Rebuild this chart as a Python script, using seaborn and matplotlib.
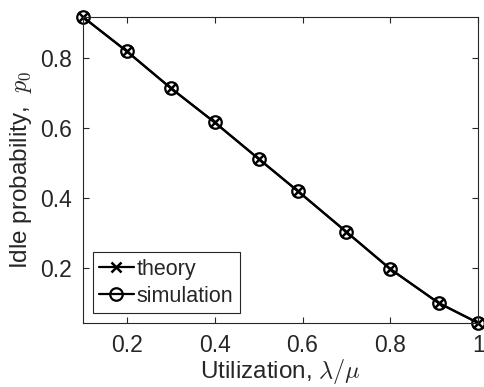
import matplotlib
matplotlib.use("Agg")
import matplotlib.pyplot as plt
import seaborn as sns
import pandas as pd

utilization = [0.1, 0.2, 0.3, 0.4, 0.5, 0.59, 0.7, 0.8, 0.91, 1.0]
theory = [0.917, 0.819, 0.714, 0.616, 0.512, 0.419, 0.303, 0.197, 0.100, 0.043]
simulation = [0.917, 0.819, 0.714, 0.616, 0.512, 0.419, 0.303, 0.197, 0.100, 0.043]
xticks = [0.2, 0.4, 0.6, 0.8, 1.0]
xticklabels = ["0.2", "0.4", "0.6", "0.8", "1"]
yticks = [0.2, 0.4, 0.6, 0.8]
yticklabels = ["0.2", "0.4", "0.6", "0.8"]

sns.set_style("ticks")
plt.rcParams["font.family"] = ["Liberation Sans", "DejaVu Sans"]
plt.rcParams["mathtext.fontset"] = "cm"

fig = plt.figure(figsize=(4.85, 3.87), dpi=100)
ax = fig.add_axes([0.171, 0.165, 0.815, 0.791])

df_t = pd.DataFrame({"x": utilization, "y": theory})
df_s = pd.DataFrame({"x": utilization, "y": simulation})
sns.lineplot(data=df_t, x="x", y="y", ax=ax, color="black", marker="x",
             markersize=7, markeredgewidth=1.8, markeredgecolor="black",
             linewidth=1.6, label="theory", clip_on=False)
sns.lineplot(data=df_s, x="x", y="y", ax=ax, color="black", marker="o",
             markersize=9, markerfacecolor="none", markeredgecolor="black",
             markeredgewidth=1.6, linewidth=1.6, label="simulation", clip_on=False)

ax.set_xlim(0.1, 1.0)
ax.set_ylim(0.0425, 0.917)
ax.set_xticks(xticks)
ax.set_xticklabels(xticklabels)
ax.set_yticks(yticks)
ax.set_yticklabels(yticklabels)
ax.tick_params(direction="in", top=True, right=True, labelsize=16.5,
               colors="#262626", length=4, width=0.8, pad=8)
for s in ax.spines.values():
    s.set_visible(True)
    s.set_color("#262626")
    s.set_linewidth(0.8)

ax.set_xlabel(r"Utilization, $\lambda/\mu$", fontsize=17.5, color="#262626", labelpad=0)
ax.set_ylabel(r"Idle probability,  $p_0$", fontsize=17.5, color="#262626", labelpad=4)

leg = ax.legend(loc="lower left", fontsize=15.5, handlelength=1.6, handletextpad=0.15,
                borderpad=0.3, labelspacing=0.3, borderaxespad=0.45, frameon=True,
                fancybox=False, edgecolor="#262626", framealpha=1)
leg.get_frame().set_linewidth(0.8)

fig.savefig("out.png", dpi=100)
